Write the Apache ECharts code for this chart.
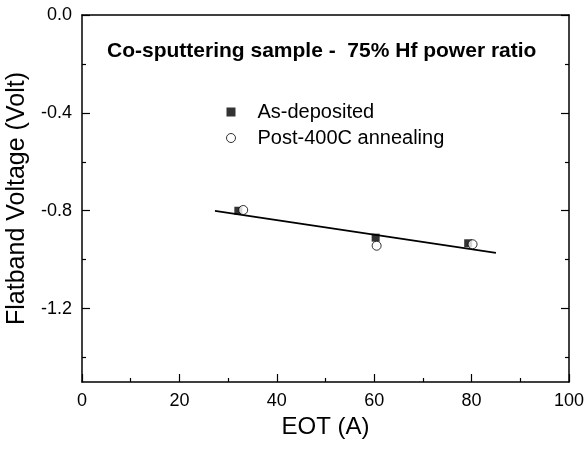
<!DOCTYPE html>
<html>
<head>
<meta charset="utf-8">
<script src="https://cdn.jsdelivr.net/npm/echarts@6/dist/echarts.min.js"></script>
<style>html,body{margin:0;padding:0;background:#fff}#c{width:586px;height:449px}</style>
</head>
<body>
<div id="c"></div>
<script>
const titleText = 'Co-sputtering sample -  75% Hf power ratio';
const xName = 'EOT (A)';
const yName = 'Flatband Voltage (Volt)';
const seriesNames = ['As-deposited', 'Post-400C annealing'];
const eotAsDep = [32.1, 60.3, 79.3];
const vfbAsDep = [-0.80, -0.91, -0.933];
const eotPost = [33.1, 60.5, 80.2];
const vfbPost = [-0.797, -0.943, -0.937];
const fitEot = [27.3, 85.0];
const fitVfb = [-0.801, -0.972];
const yMajorTicks = [0, -0.4, -0.8, -1.2];
const yMinorTicks = [-0.2, -0.6, -1.0, -1.4];

const pairs = (xs, ys) => xs.map((x, i) => [x, ys[i]]);
const FONT = '"Liberation Sans", Arial, sans-serif';
const black = '#000';

const chart = echarts.init(document.getElementById('c'), null, {renderer: 'canvas'});
chart.setOption({
  animation: false,
  backgroundColor: '#fff',
  title: {
    text: titleText, left: 107, top: 41, padding: 0,
    textStyle: {fontFamily: FONT, fontSize: 21, fontWeight: 'bold', color: black}
  },
  legend: {
    orient: 'vertical', left: 226, top: 102, padding: 0, itemGap: 6,
    itemWidth: 9, itemHeight: 9,
    data: [
      {name: seriesNames[0], icon: 'rect', itemStyle: {color: black, borderWidth: 0}},
      {name: seriesNames[1], icon: 'circle', itemStyle: {color: '#fff', borderColor: black, borderWidth: 1}}
    ],
    textStyle: {fontFamily: FONT, fontSize: 20, color: black, lineHeight: 20, padding: [0, 0, 0, 17]}
  },
  grid: {left: 82, right: 17, top: 15, bottom: 67, containLabel: false, outerBoundsMode: 'none'},
  xAxis: [
    {
      type: 'value', min: 0, max: 100, interval: 20, position: 'bottom',
      name: xName, nameLocation: 'middle', nameGap: 26,
      nameTextStyle: {fontFamily: FONT, fontSize: 24, color: black},
      axisLine: {show: true, onZero: false, lineStyle: {color: black, width: 1.5}},
      axisTick: {show: true, inside: true, length: 8, lineStyle: {color: black, width: 1.2}},
      minorTick: {show: true, splitNumber: 2, length: 4, lineStyle: {color: black, width: 1.2}},
      axisLabel: {fontFamily: FONT, fontSize: 18, color: black, margin: 10},
      splitLine: {show: false}
    },
    {
      type: 'value', min: 0, max: 100, position: 'top',
      axisLine: {show: true, onZero: false, lineStyle: {color: black, width: 1.5}},
      axisTick: {show: false}, axisLabel: {show: false}, splitLine: {show: false}
    }
  ],
  yAxis: [
    {
      type: 'value', min: -1.5, max: 0, position: 'left',
      name: yName, nameLocation: 'middle', nameGap: 47, nameRotate: 90,
      nameTextStyle: {fontFamily: FONT, fontSize: 25, color: black},
      axisLine: {show: true, onZero: false, lineStyle: {color: black, width: 1.5}},
      axisTick: {show: true, inside: true, length: 8, customValues: yMajorTicks, lineStyle: {color: black, width: 1.2}},
      axisLabel: {fontFamily: FONT, fontSize: 18, color: black, margin: 10, customValues: yMajorTicks,
        formatter: v => v.toFixed(1)},
      splitLine: {show: false}
    },
    {
      type: 'value', min: -1.5, max: 0, position: 'left',
      axisLine: {show: false, onZero: false},
      axisTick: {show: true, inside: true, length: 4, customValues: yMinorTicks, lineStyle: {color: black, width: 1.2}},
      axisLabel: {show: false}, splitLine: {show: false}
    },
    {
      type: 'value', min: -1.5, max: 0, position: 'right',
      axisLine: {show: true, onZero: false, lineStyle: {color: black, width: 1.5}},
      axisTick: {show: true, inside: true, length: 8, customValues: yMajorTicks, lineStyle: {color: black, width: 1.2}},
      axisLabel: {show: false}, splitLine: {show: false}
    },
    {
      type: 'value', min: -1.5, max: 0, position: 'right',
      axisLine: {show: false, onZero: false},
      axisTick: {show: true, inside: true, length: 4, customValues: yMinorTicks, lineStyle: {color: black, width: 1.2}},
      axisLabel: {show: false}, splitLine: {show: false}
    }
  ],
  series: [
    {
      name: 'fit', type: 'line', data: pairs(fitEot, fitVfb), symbol: 'none',
      lineStyle: {color: black, width: 1.8}, silent: true, z: 2
    },
    {
      name: seriesNames[0], type: 'scatter', data: pairs(eotAsDep, vfbAsDep),
      symbol: 'rect', symbolSize: 8, itemStyle: {color: black}, z: 3
    },
    {
      name: seriesNames[1], type: 'scatter', data: pairs(eotPost, vfbPost),
      symbol: 'circle', symbolSize: 9, itemStyle: {color: '#fff', borderColor: black, borderWidth: 1}, z: 4
    }
  ]
});
</script>
</body>
</html>
